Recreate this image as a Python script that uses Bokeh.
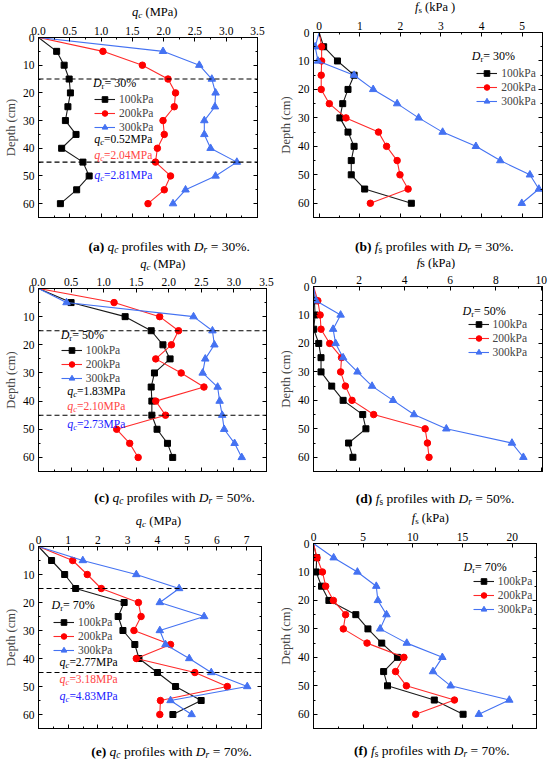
from bokeh.plotting import figure
from bokeh.layouts import column, row
from bokeh.models import (Range1d, LinearAxis, SingleIntervalTicker, Label, Legend,
                          LegendItem, Span, PrintfTickFormatter, CustomJSTickFormatter)
from bokeh.embed import file_html
from bokeh.resources import INLINE

# ---------------- data ----------------
depth = [0, 5, 10, 15, 20, 25, 30, 35, 40, 45, 50, 55, 60]
series_labels = ["100kPa", "200kPa", "300kPa"]
boundary_depths = [15, 45]

qc30_100 = [0, 0.29, 0.41, 0.49, 0.51, 0.47, 0.43, 0.60, 0.37, 0.71, 0.81, 0.61, 0.35]
qc30_200 = [0, 1.03, 1.66, 2.07, 2.19, 2.17, 1.99, 2.01, 1.90, 1.87, 2.11, 2.01, 1.75]
qc30_300 = [0, 1.99, 2.57, 2.77, 2.83, 2.82, 2.65, 2.65, 2.75, 3.17, 2.83, 2.35, 2.15]
fs30_100 = [0, 0.11, 0.45, 0.86, 0.71, 0.58, 0.51, 0.71, 0.86, 0.79, 0.79, 1.12, 2.27]
fs30_200 = [0, 0.06, 0.06, 0.05, 0.05, 0.25, 0.66, 1.46, 1.66, 1.92, 1.99, 2.19, 1.26]
fs30_300 = [0, -0.10, -0.03, 0.86, 1.33, 1.92, 2.45, 3.04, 3.86, 4.46, 5.19, 5.41, 4.99]
qc50_100 = [0, 0.50, 1.33, 1.73, 1.91, 2.02, 1.78, 1.73, 1.74, 1.74, 1.82, 1.98, 2.06]
qc50_200 = [0, 1.16, 1.86, 2.15, 2.04, 1.80, 2.19, 2.54, 1.80, 1.95, 1.20, 1.40, 1.53]
qc50_300 = [0, 0.43, 2.38, 2.67, 2.70, 2.56, 2.52, 2.75, 2.78, 2.82, 2.85, 3.01, 3.12]
fs50_100 = [0, 0.04, 0.07, 0.01, 0.23, 0.33, 0.33, 0.80, 1.30, 2.16, 2.30, 1.54, 1.73]
fs50_200 = [0, 0.19, 0.29, 0.33, 0.71, 1.23, 1.19, 1.40, 1.69, 2.64, 4.90, 5.00, 5.07]
fs50_300 = [0, 0.11, 1.19, 0.86, 0.97, 1.30, 1.93, 2.57, 3.49, 4.41, 5.83, 8.71, 9.21]
qc70_100 = [0, 0.44, 0.88, 1.25, 2.88, 2.68, 2.84, 3.24, 3.38, 4.00, 4.61, 5.47, 4.52]
qc70_200 = [0, 1.15, 1.64, 2.11, 3.36, 3.45, 3.21, 4.44, 3.29, 5.26, 6.35, 4.10, 4.08]
qc70_300 = [0, 1.49, 3.29, 4.73, 4.08, 5.57, 4.08, 4.27, 5.07, 5.81, 7.02, 4.44, 5.15]
fs70_100 = [0, 0.32, 0.26, 0.81, 1.55, 4.26, 5.48, 6.87, 8.45, 7.06, 7.45, 12.16, 15.06]
fs70_200 = [0, 0.35, 0.90, 1.23, 2.00, 3.23, 3.00, 5.39, 9.10, 8.26, 9.35, 14.19, 10.29]
fs70_300 = [0, 2.03, 4.42, 6.32, 6.48, 7.35, 6.71, 9.39, 12.97, 12.03, 13.81, 19.71, 16.65]

qc_mean_30 = ["0.52", "2.04", "2.81"]
qc_mean_50 = ["1.83", "2.10", "2.73"]
qc_mean_70 = ["2.77", "3.18", "4.83"]

# ---------------- style ----------------
FONT = "Liberation Serif"
LINE_COLORS = ["#1a1a1a", "#ff2a2a", "#4472f2"]
MARK_COLORS = ["#000000", "#ff0000", "#4472f2"]
TEXT_COLORS = ["#000000", "#ff4545", "#2020ff"]
MARKERS = [("square", 6), ("circle", 6.5), ("triangle", 7.5)]
COL_W = 275

W = {
    "normal": {" ": 250, "(": 333, ")": 333, "%": 833, ".": 250, "=": 564, "D": 722,
               "M": 889, "P": 556, "a": 444, "b": 500, "c": 444, "d": 500, "e": 444,
               "f": 333, "h": 500, "i": 278, "k": 500, "l": 278, "o": 500, "p": 500,
               "q": 500, "r": 333, "s": 389, "t": 278, "w": 722},
    "italic": {"q": 500, "c": 444, "D": 722, "r": 389, "f": 278, "s": 389, " ": 250},
    "bold": {"(": 333, ")": 333, "a": 500, "b": 556, "c": 444, "d": 556, "e": 444,
             "f": 333, " ": 250},
}


def tw(s, style, size):
    return sum(W[style].get(ch, 500) for ch in s) / 1000.0 * size


def rich(p, pieces, x, y, dx=0.0, dy=0.0, align="left"):
    """Rich text made of side-by-side labels; (x, y) + (dx, dy px) is the text's middle-left
    (or middle-centre if align == 'center'). Each piece: (text, style, size, drop_px, colour)."""
    total = sum(tw(t, s, z) for t, s, z, sh, c in pieces)
    cur = dx - (total / 2.0 if align == "center" else 0.0)
    for t, s, z, sh, c in pieces:
        core = t.strip(" ")
        lead = len(t) - len(t.lstrip(" "))
        if core:
            p.add_layout(Label(x=x, y=y, x_offset=cur + tw(" " * lead, s, z),
                               y_offset=-(dy + sh), text=core,
                               text_font=FONT, text_font_style=s, text_font_size=f"{z}px",
                               text_color=c, text_baseline="middle", text_align="left"))
        cur += tw(t, s, z)


# layout per panel: heights (title strip, plot, caption strip), plot borders (L, R, T, B),
# title centre (x in column, y in title strip), caption centre (x, y in caption strip)
panels = [
    dict(key="a", xr=(0, 3.5), tick=0.5, fmt="%.1f",
         vals=(qc30_100, qc30_200, qc30_300), dr="30%", kind="qc", mean=qc_mean_30,
         heights=(20, 209, 26), border=(32, 18, 17, 12), title_c=(146, 11), cap_c=(164, 17),
         dr_pos=(0.87, 16.5), leg_pos=(0.87, 22.5), qc_pos=(0.89, [36.8, 42.3, 49.7])),
    dict(key="b", xr=(-0.14, 5.5), tick=1, fmt="%d",
         vals=(fs30_100, fs30_200, fs30_300), dr="30%", kind="fs_sub", mean=None,
         heights=(15, 214, 26), border=(35, 8, 17, 12), title_c=(146, 6.5), cap_c=(145, 17),
         dr_pos=(3.76, 8.2), leg_pos=(3.83, 14.5), qc_pos=None),
    dict(key="c", xr=(0, 3.5), tick=0.5, fmt="%.1f",
         vals=(qc50_100, qc50_200, qc50_300), dr="50%", kind="qc", mean=qc_mean_50,
         heights=(16, 209, 30), border=(32, 9, 17, 9), title_c=(150, 8), cap_c=(164, 17),
         dr_pos=(0.34, 16.4), leg_pos=(0.34, 22.0), qc_pos=(0.44, [36.3, 41.9, 48.1])),
    dict(key="d", xr=(0, 10.05), tick=2, fmt="%d",
         vals=(fs50_100, fs50_200, fs50_300), dr="50%", kind="fs_plain", mean=None,
         heights=(14, 211, 30), border=(32, 8, 17, 9), title_c=(147, 7), cap_c=(146, 18),
         dr_pos=(6.54, 8.7), leg_pos=(6.61, 13.3), qc_pos=None),
    dict(key="e", xr=(0, 7.5), tick=1, fmt="%d",
         vals=(qc70_100, qc70_200, qc70_300), dr="70%", kind="qc", mean=qc_mean_70,
         heights=(19, 208, 27), border=(32, 14, 17, 9), title_c=(148, 10.5), cap_c=(164, 14),
         dr_pos=(0.44, 20.9), leg_pos=(0.49, 27.1), qc_pos=(0.71, [41.2, 47.3, 53.5])),
    dict(key="f", xr=(0, 22.45), tick=5, fmt="%d",
         vals=(fs70_100, fs70_200, fs70_300), dr="70%", kind="fs_sub", mean=None,
         heights=(16, 211, 27), border=(31, 14, 17, 9), title_c=(144, 7.5), cap_c=(146, 13),
         dr_pos=(15.1, 8.1), leg_pos=(15.6, 13.3), qc_pos=None),
]


def style_axis(ax, labels=True):
    ax.axis_line_color = "black"
    ax.axis_line_width = 1
    ax.major_tick_in = 4
    ax.major_tick_out = 0
    ax.minor_tick_in = 2
    ax.minor_tick_out = 0
    ax.major_tick_line_color = "black"
    ax.minor_tick_line_color = "black"
    ax.major_label_text_font = FONT
    ax.major_label_text_font_size = "11.5px"
    ax.major_label_text_color = "black"
    ax.axis_label_text_font = FONT
    ax.axis_label_text_font_size = "12.5px"
    ax.axis_label_text_font_style = "normal"
    if labels:
        ax.major_label_standoff = 3
    else:
        ax.major_label_standoff = 0
        ax.formatter = CustomJSTickFormatter(code="return ''")


def text_strip(h):
    s = figure(width=COL_W, height=h, x_range=Range1d(0, COL_W), y_range=Range1d(h, 0),
               x_axis_type=None, y_axis_type=None, output_backend="svg",
               toolbar_location=None, min_border=0)
    s.outline_line_color = None
    s.background_fill_color = "white"
    s.border_fill_color = "white"
    return s


def make_panel(cfg):
    L, R, T, B = cfg["border"]
    ht, hp, hc = cfg["heights"]
    x0, x1 = cfg["xr"]
    fw = COL_W - L - R
    fh = hp - T - B
    p = figure(width=COL_W, height=hp, x_range=Range1d(x0, x1), y_range=Range1d(65, 0),
               x_axis_location="above", output_backend="svg", toolbar_location=None,
               min_border_left=L, min_border_right=R, min_border_top=T, min_border_bottom=B)
    p.outline_line_color = "black"
    p.xgrid.visible = False
    p.ygrid.visible = False
    p.background_fill_color = "white"
    p.border_fill_color = "white"

    xt = SingleIntervalTicker(interval=cfg["tick"], num_minor_ticks=2)
    yt = SingleIntervalTicker(interval=10, num_minor_ticks=2)
    p.xaxis.ticker = xt
    p.xaxis.formatter = PrintfTickFormatter(format=cfg["fmt"])
    p.yaxis.ticker = yt
    p.yaxis.axis_label = "Depth (cm)"
    for ax in p.xaxis:
        style_axis(ax)
    for ax in p.yaxis:
        style_axis(ax)
        ax.major_label_standoff = 4
        ax.axis_label_standoff = 2
    bx = LinearAxis(ticker=xt)
    style_axis(bx, labels=False)
    p.add_layout(bx, "below")
    ry = LinearAxis(ticker=yt)
    style_axis(ry, labels=False)
    p.add_layout(ry, "right")

    if cfg["kind"] == "qc":
        for dd in boundary_depths:
            p.add_layout(Span(location=dd, dimension="width", line_color="black",
                              line_dash="5 3", line_width=1.1))

    items = []
    for i, vals in enumerate(cfg["vals"]):
        lr = p.line(vals, depth, line_color=LINE_COLORS[i], line_width=1.1)
        mk, sz = MARKERS[i]
        sr = p.scatter(vals[1:], depth[1:], marker=mk, size=sz, fill_color=MARK_COLORS[i],
                       line_color=MARK_COLORS[i])
        items.append(LegendItem(label=series_labels[i], renderers=[lr, sr]))

    # legend
    lx, ld = cfg["leg_pos"]
    px = (lx - x0) / (x1 - x0) * fw
    top = ld / 65.0 * fh - 7
    leg = Legend(items=items, location=(px, fh - (top + 42)), glyph_width=21, glyph_height=14,
                 label_height=14, label_width=30, spacing=0, padding=0, margin=0,
                 label_standoff=4, background_fill_alpha=0, border_line_alpha=0,
                 label_text_font=FONT, label_text_font_size="11.5px")
    p.add_layout(leg)

    # D_r label
    dx_, dd_ = cfg["dr_pos"]
    rich(p, [("D", "italic", 12, 0, "black"), ("r", "normal", 8.5, 3, "black"),
             ("= " + cfg["dr"], "normal", 12, 0, "black")], dx_, dd_)

    # mean qc labels
    if cfg["qc_pos"]:
        qx, qds = cfg["qc_pos"]
        for i, qd in enumerate(qds):
            c = TEXT_COLORS[i]
            rich(p, [("q", "italic", 12, 0, c), ("c", "italic", 8.5, 3, c),
                     ("=" + cfg["mean"][i] + "MPa", "normal", 11.5, 0, c)], qx, qd)

    # axis title strip
    ts = text_strip(ht)
    tx, ty = cfg["title_c"]
    if cfg["kind"] == "qc":
        tp = [("q", "italic", 12.5, 0, "black"), ("c", "italic", 9, 3, "black"),
              (" (MPa)", "normal", 12.5, 0, "black")]
    elif cfg["kind"] == "fs_plain":
        tp = [("f", "italic", 12.5, 0, "black"), ("s", "normal", 12.5, 0, "black"),
              (" (kPa)", "normal", 12.5, 0, "black")]
    else:
        tail = " (kPa )" if cfg["key"] == "b" else " (kPa)"
        tp = [("f", "italic", 12.5, 0, "black"), ("s", "normal", 9, 3, "black"),
              (tail, "normal", 12.5, 0, "black")]
    rich(ts, tp, tx, ty, align="center")

    # caption strip
    cs = text_strip(hc)
    cx, cy = cfg["cap_c"]
    sym = [("q", "italic", 13.5, 0, "black"), ("c", "italic", 9.5, 3, "black")] \
        if cfg["kind"] == "qc" else \
        [("f", "italic", 13.5, 0, "black"), ("s", "normal", 9.5, 3, "black")]
    cap = [("(" + cfg["key"] + ")", "bold", 13.5, 0, "black"), (" ", "normal", 13.5, 0, "black")] + sym + \
          [(" profiles with ", "normal", 13.5, 0, "black"), ("D", "italic", 13.5, 0, "black"),
           ("r", "italic", 9.5, 3, "black"), (" = " + cfg["dr"] + ".", "normal", 13.5, 0, "black")]
    rich(cs, cap, cx, cy, align="center")
    return column(ts, p, cs, spacing=0)


cols = [make_panel(c) for c in panels]
layout = column(row(cols[0], cols[1], spacing=0), row(cols[2], cols[3], spacing=0),
                row(cols[4], cols[5], spacing=0), spacing=0)

open("out.html", "w").write(file_html(layout, INLINE))
